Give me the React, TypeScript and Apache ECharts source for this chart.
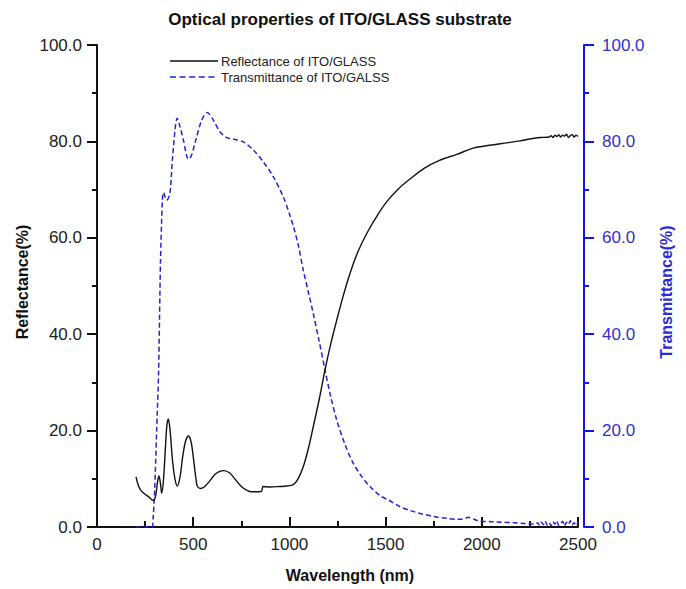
import React, { useEffect, useRef } from "react";
import * as echarts from "echarts";

const titleText = "Optical properties of ITO/GLASS substrate";
const xName = "Wavelength (nm)";
const leftName = "Reflectance(%)";
const rightName = "Transmittance(%)";
const reflName = "Reflectance of ITO/GLASS";
const transName = "Transmittance of ITO/GALSS";

const reflWl = [
  203, 215, 230, 250, 270, 293, 305, 315, 322, 330, 336, 345, 355, 363, 371, 380, 392, 405, 418,
  432, 445, 460, 475, 490, 505, 515, 522, 540, 560, 585, 610, 635, 660, 690, 720, 750, 780, 804,
  830, 855, 860, 864, 900, 950, 986, 1020, 1045, 1072, 1100, 1124, 1155, 1185, 1215, 1246, 1280,
  1315, 1355, 1402, 1455, 1506, 1570, 1627, 1700, 1783, 1870, 1956, 2040, 2130, 2199, 2250, 2303,
  2350, 2360, 2370, 2380, 2390, 2400, 2410, 2420, 2430, 2440, 2450, 2460, 2470, 2480, 2490, 2500,
];
const reflVal = [
  10.4, 8.6, 7.5, 6.8, 6.2, 5.5, 6.5, 9.5, 10.6, 9.0, 7.0, 9.5, 16.0, 21.0, 22.4, 20.0, 14.0, 10.0,
  8.5, 10.5, 14.5, 17.8, 18.9, 17.5, 13.0, 9.8, 8.4, 8.0, 8.4, 9.5, 10.8, 11.5, 11.7, 11.2, 9.8,
  8.4, 7.6, 7.3, 7.3, 7.4, 8.2, 8.4, 8.3, 8.4, 8.5, 8.8, 10.0, 12.5, 16.5, 20.8, 26.5, 32.6, 38.0,
  42.9, 48.0, 52.6, 57.0, 60.9, 64.5, 67.5, 70.3, 72.2, 74.4, 76.1, 77.3, 78.6, 79.2, 79.7, 80.1,
  80.5, 80.8, 80.9, 81.2, 80.8, 81.3, 81.0, 81.4, 80.9, 81.3, 81.1, 81.5, 80.8, 81.2, 81.4, 80.9,
  81.3, 81.0,
];

const transWl = [
  200, 285, 292, 300, 310, 320, 330, 340, 345, 362, 379, 393, 417, 432, 449, 475, 490, 509, 544,
  573, 605, 639, 674, 717, 761, 813, 864, 916, 968, 1000, 1020, 1046, 1072, 1100, 1124, 1155, 1185,
  1215, 1246, 1290, 1332, 1375, 1419, 1471, 1520, 1575, 1630, 1679, 1750, 1818, 1870, 1900, 1930,
  1960, 1991, 2050, 2100, 2164, 2220, 2268, 2280, 2290, 2300, 2310, 2320, 2330, 2340, 2350, 2360,
  2370, 2380, 2390, 2400, 2410, 2420, 2430, 2440, 2450, 2460, 2470, 2480, 2490, 2500,
];
const transVal = [
  0, 0, 2.0, 8.0, 20.0, 32.0, 55.0, 68.0, 69.4, 67.8, 69.2, 76.8, 84.8, 83.0, 80.3, 76.3, 77.0,
  79.6, 84.4, 86.0, 84.4, 82.0, 80.8, 80.4, 79.9, 78.2, 75.8, 72.7, 68.5, 65.0, 62.5, 58.5, 53.3,
  48.5, 44.3, 38.5, 32.6, 27.0, 22.2, 17.0, 13.2, 10.5, 8.4, 6.5, 5.5, 4.2, 3.4, 2.8, 2.2, 1.8, 1.6,
  1.6, 2.0, 1.6, 1.2, 1.1, 1.0, 0.9, 0.75, 0.6, 0.6, 0.9, 0.3, 1.0, 0.5, 1.2, 0.4, 0.9, 0.2, 1.1,
  0.6, 1.3, 0.3, 0.8, 1.2, 0.2, 1.0, 0.5, 1.3, 0.4, 0.9, 0.3, 1.1,
];

const FONT = "'Liberation Sans', Arial, sans-serif";
const BLUE_AXIS = "#1414f0";
const BLUE_LINE = "#2323d2";
const BLUE_TEXT = "#3030cc";

export default function App() {
  const ref = useRef<HTMLDivElement>(null);
  useEffect(() => {
    if (!ref.current) return;
    const chart = echarts.init(ref.current, undefined, { renderer: "svg" });
    const refl = reflWl.map((w, i) => [w, reflVal[i]]);
    const trans = transWl.map((w, i) => [w, transVal[i]]);
    const nameStyle = {
      fontFamily: FONT,
      fontWeight: "bold",
      fontSize: 16,
      align: "center",
      verticalAlign: "middle",
    };
    chart.setOption({
      animation: false,
      backgroundColor: "#ffffff",
      textStyle: { fontFamily: FONT },
      title: {
        text: titleText,
        left: 335,
        textAlign: "center",
        top: 6,
        textStyle: { fontFamily: FONT, fontWeight: "bold", fontSize: 17, color: "#111" },
      },
      legend: { show: false },
      grid: { left: 97, right: 108, top: 45, bottom: 62 },
      xAxis: {
        type: "value",
        min: 0,
        max: 2500,
        interval: 500,
        axisLine: { show: true, onZero: false, lineStyle: { color: "#111", width: 2 } },
        axisTick: { show: true, inside: true, length: 10, lineStyle: { color: "#111", width: 2 } },
        minorTick: { show: true, splitNumber: 2, length: 6, lineStyle: { color: "#111", width: 2 } },
        axisLabel: {
          fontFamily: FONT,
          fontSize: 17,
          color: "#222",
          margin: 9,
          formatter: (v: number) => String(v),
        },
        splitLine: { show: false },
      },
      yAxis: [
        {
          type: "value",
          min: 0,
          max: 100,
          interval: 20,
          position: "left",
          axisLine: { show: true, onZero: false, lineStyle: { color: "#111", width: 2 } },
          axisTick: { show: true, inside: false, length: 10, lineStyle: { color: "#111", width: 2 } },
          minorTick: { show: true, splitNumber: 2, length: 5, lineStyle: { color: "#111", width: 2 } },
          axisLabel: {
            fontFamily: FONT,
            fontSize: 17,
            color: "#222",
            margin: 15,
            formatter: (v: number) => v.toFixed(1),
          },
          splitLine: { show: false },
        },
        {
          type: "value",
          min: 0,
          max: 100,
          interval: 20,
          position: "right",
          offset: 6,
          axisLine: { show: true, onZero: false, lineStyle: { color: BLUE_AXIS, width: 2 } },
          axisTick: { show: true, inside: false, length: 10, lineStyle: { color: BLUE_AXIS, width: 2 } },
          minorTick: { show: true, splitNumber: 2, length: 5, lineStyle: { color: BLUE_AXIS, width: 2 } },
          axisLabel: {
            fontFamily: FONT,
            fontSize: 17,
            color: BLUE_TEXT,
            margin: 18,
            formatter: (v: number) => v.toFixed(1),
          },
          splitLine: { show: false },
        },
      ],
      graphic: [
        {
          type: "text",
          x: 22,
          y: 282,
          rotation: Math.PI / 2,
          style: { ...nameStyle, text: leftName, fill: "#111" },
        },
        {
          type: "text",
          x: 666,
          y: 292,
          rotation: Math.PI / 2,
          style: { ...nameStyle, text: rightName, fill: "#2a2ad8" },
        },
        {
          type: "text",
          x: 350,
          y: 575,
          style: { ...nameStyle, text: xName, fill: "#111" },
        },
        {
          type: "line",
          shape: { x1: 170, y1: 61, x2: 218, y2: 61 },
          style: { stroke: "#111", lineWidth: 1.4 },
        },
        {
          type: "text",
          x: 221,
          y: 61,
          style: {
            text: reflName,
            fontFamily: FONT,
            fontSize: 13,
            fill: "#222",
            verticalAlign: "middle",
          },
        },
        {
          type: "line",
          shape: { x1: 170, y1: 77, x2: 218, y2: 77 },
          style: { stroke: BLUE_LINE, lineWidth: 1.5, lineDash: [6, 3.6] },
        },
        {
          type: "text",
          x: 221,
          y: 77,
          style: {
            text: transName,
            fontFamily: FONT,
            fontSize: 13,
            fill: "#222",
            verticalAlign: "middle",
          },
        },
      ],
      series: [
        {
          name: reflName,
          type: "line",
          yAxisIndex: 0,
          data: refl,
          showSymbol: false,
          symbol: "none",
          smooth: 0.3,
          lineStyle: { color: "#111", width: 1.4 },
          itemStyle: { color: "#111" },
          z: 3,
        },
        {
          name: transName,
          type: "line",
          yAxisIndex: 1,
          data: trans,
          showSymbol: false,
          symbol: "none",
          smooth: 0.3,
          lineStyle: { color: BLUE_LINE, width: 1.5, type: [5, 3] },
          itemStyle: { color: BLUE_LINE },
          z: 2,
        },
      ],
    });
    return () => chart.dispose();
  }, []);
  return (
    <div
      ref={ref}
      style={{ position: "absolute", left: 0, top: 0, width: 686, height: 589, background: "#fff" }}
    />
  );
}
